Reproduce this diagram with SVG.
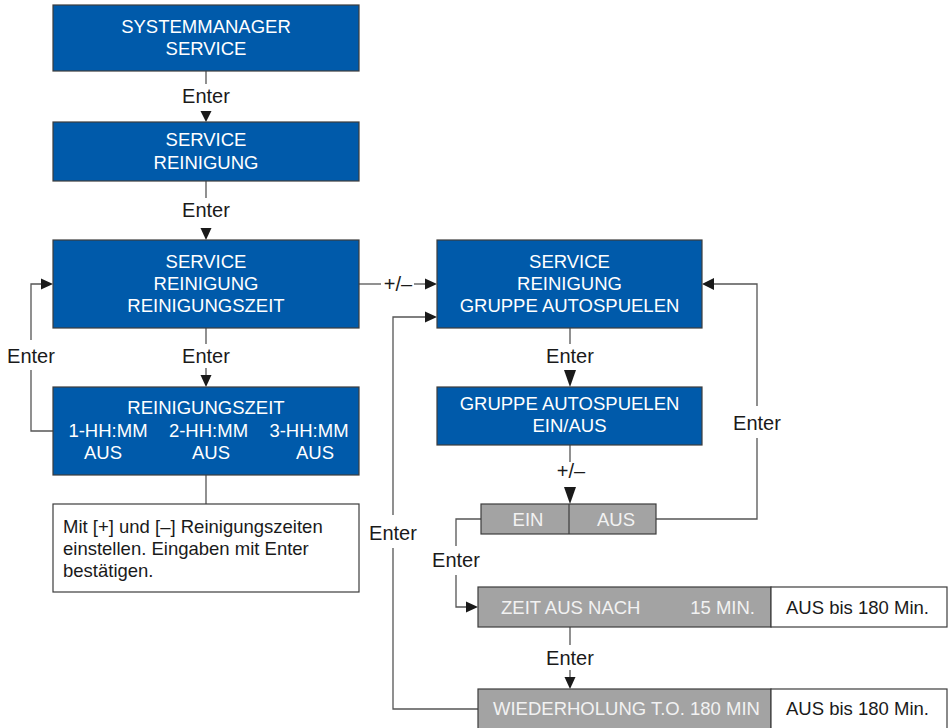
<svg xmlns="http://www.w3.org/2000/svg" width="948" height="728" viewBox="0 0 948 728">
<defs>
<style>
.blue{fill:#005aaa;stroke:#3c3c3c;stroke-width:1.2}
.grey{fill:#a3a3a3;stroke:#3c3c3c;stroke-width:1.2}
.white{fill:#ffffff;stroke:#3c3c3c;stroke-width:1.2}
.bt{font-family:"Liberation Sans",Arial,sans-serif;font-size:18.5px;fill:#ffffff;text-anchor:middle}
.gt{font-family:"Liberation Sans",Arial,sans-serif;font-size:18.5px;fill:#f2f2f2}
.wt{font-family:"Liberation Sans",Arial,sans-serif;font-size:18.5px;fill:#1a1a1a}
.lbl{font-family:"Liberation Sans",Arial,sans-serif;font-size:20px;fill:#1a1a1a;text-anchor:middle}
.ln{fill:none;stroke:#555555;stroke-width:1.3}
.ah{fill:#1a1a1a}
</style>
</defs>
<rect width="948" height="728" fill="#ffffff"/>

<g id="connectors">
  <!-- box1 -> box2 -->
  <line class="ln" x1="206" y1="71" x2="206" y2="84"/>
  <text class="lbl" x="206" y="103">Enter</text>
  <polygon class="ah" points="200.5,111 211.5,111 206,122"/>
  <!-- box2 -> box3 -->
  <line class="ln" x1="206" y1="181" x2="206" y2="198"/>
  <text class="lbl" x="206" y="217">Enter</text>
  <polygon class="ah" points="200.5,228 211.5,228 206,240"/>
  <!-- box3 -> box4 -->
  <line class="ln" x1="206" y1="328" x2="206" y2="344"/>
  <text class="lbl" x="206" y="363">Enter</text>
  <line class="ln" x1="206" y1="368" x2="206" y2="376"/>
  <polygon class="ah" points="200.5,375 211.5,375 206,387"/>
  <!-- box4 -> box3 loop -->
  <polyline class="ln" points="53,431 31,431 31,370"/>
  <polyline class="ln" points="31,340 31,284 42,284"/>
  <text class="lbl" x="31" y="363">Enter</text>
  <polygon class="ah" points="41,278.5 41,289.5 53,284"/>
  <!-- box4 -> note -->
  <line class="ln" x1="206" y1="475" x2="206" y2="504"/>
  <!-- box3 -> box6 -->
  <line class="ln" x1="359" y1="284" x2="381" y2="284"/>
  <text class="lbl" x="398" y="291">+/–</text>
  <line class="ln" x1="414" y1="284" x2="426" y2="284"/>
  <polygon class="ah" points="425,278.5 425,289.5 437,284"/>
  <!-- box6 -> box7 -->
  <line class="ln" x1="570" y1="328" x2="570" y2="344"/>
  <text class="lbl" x="570" y="363">Enter</text>
  <polygon class="ah" points="564,370 576,370 570,387"/>
  <!-- box7 -> einaus -->
  <line class="ln" x1="570" y1="445" x2="570" y2="462"/>
  <text class="lbl" x="571" y="478">+/–</text>
  <polygon class="ah" points="564,487 576,487 570,504"/>
  <!-- AUS -> box6 loop -->
  <polyline class="ln" points="656,519 757,519 757,438"/>
  <polyline class="ln" points="757,406 757,284 714,284"/>
  <text class="lbl" x="757" y="430">Enter</text>
  <polygon class="ah" points="714,278 714,290 702,284"/>
  <!-- EIN -> zeit loop -->
  <polyline class="ln" points="481,519 456,519 456,546"/>
  <polyline class="ln" points="456,575 456,607 467,607"/>
  <text class="lbl" x="456" y="567">Enter</text>
  <polygon class="ah" points="466,601.5 466,612.5 478,607"/>
  <!-- zeit -> wiederholung -->
  <line class="ln" x1="570" y1="627" x2="570" y2="645"/>
  <text class="lbl" x="570" y="665">Enter</text>
  <line class="ln" x1="570" y1="670" x2="570" y2="678"/>
  <polygon class="ah" points="564.5,677 575.5,677 570,689"/>
  <!-- wiederholung -> box6 loop -->
  <polyline class="ln" points="478,709 393,709 393,548"/>
  <polyline class="ln" points="393,515 393,317 426,317"/>
  <text class="lbl" x="393" y="540">Enter</text>
  <polygon class="ah" points="425,311.5 425,322.5 437,317"/>
</g>

<g id="n-systemmanager">
  <rect class="blue" x="53" y="5" width="306" height="66"/>
  <text class="bt" x="206" y="33">SYSTEMMANAGER</text>
  <text class="bt" x="206" y="55">SERVICE</text>
</g>
<g id="n-service-reinigung">
  <rect class="blue" x="53" y="122" width="306" height="59"/>
  <text class="bt" x="206" y="146">SERVICE</text>
  <text class="bt" x="206" y="169">REINIGUNG</text>
</g>
<g id="n-reinigungszeit-menu">
  <rect class="blue" x="53" y="240" width="306" height="88"/>
  <text class="bt" x="206" y="268">SERVICE</text>
  <text class="bt" x="206" y="290">REINIGUNG</text>
  <text class="bt" x="206" y="312">REINIGUNGSZEIT</text>
</g>
<g id="n-reinigungszeit">
  <rect class="blue" x="53" y="387" width="306" height="88"/>
  <text class="bt" x="206" y="414">REINIGUNGSZEIT</text>
  <text class="bt" x="108" y="437">1-HH:MM</text>
  <text class="bt" x="208.5" y="437">2-HH:MM</text>
  <text class="bt" x="309" y="437">3-HH:MM</text>
  <text class="bt" x="103" y="459">AUS</text>
  <text class="bt" x="211" y="459">AUS</text>
  <text class="bt" x="315" y="459">AUS</text>
</g>
<g id="n-note">
  <rect class="white" x="53" y="504" width="306" height="88"/>
  <text class="wt" x="63" y="533">Mit [+] und [–] Reinigungszeiten</text>
  <text class="wt" x="63" y="555">einstellen. Eingaben mit Enter</text>
  <text class="wt" x="63" y="577">bestätigen.</text>
</g>
<g id="n-gruppe-autospuelen-menu">
  <rect class="blue" x="437" y="240" width="265" height="88"/>
  <text class="bt" x="569.5" y="268">SERVICE</text>
  <text class="bt" x="569.5" y="290">REINIGUNG</text>
  <text class="bt" x="569.5" y="312">GRUPPE AUTOSPUELEN</text>
</g>
<g id="n-gruppe-ein-aus">
  <rect class="blue" x="437" y="387" width="265" height="58"/>
  <text class="bt" x="569.5" y="410">GRUPPE AUTOSPUELEN</text>
  <text class="bt" x="569.5" y="432">EIN/AUS</text>
</g>
<g id="n-ein-aus">
  <rect class="grey" x="481" y="504" width="175" height="30"/>
  <line x1="569" y1="504" x2="569" y2="534" stroke="#3c3c3c" stroke-width="1.2"/>
  <text class="gt" x="528" y="526" text-anchor="middle">EIN</text>
  <text class="gt" x="616" y="526" text-anchor="middle">AUS</text>
</g>
<g id="n-zeit-aus-nach">
  <rect class="grey" x="478" y="587" width="293" height="40"/>
  <rect class="white" x="771" y="587" width="176" height="40"/>
  <text class="gt" x="501" y="614">ZEIT AUS NACH</text>
  <text class="gt" x="755" y="614" text-anchor="end">15 MIN.</text>
  <text class="wt" x="786" y="614">AUS bis 180 Min.</text>
</g>
<g id="n-wiederholung">
  <rect class="grey" x="478" y="689" width="293" height="45"/>
  <rect class="white" x="771" y="689" width="176" height="45"/>
  <text class="gt" x="493" y="715">WIEDERHOLUNG T.O. 180 MIN</text>
  <text class="wt" x="786" y="715">AUS bis 180 Min.</text>
</g>
</svg>
